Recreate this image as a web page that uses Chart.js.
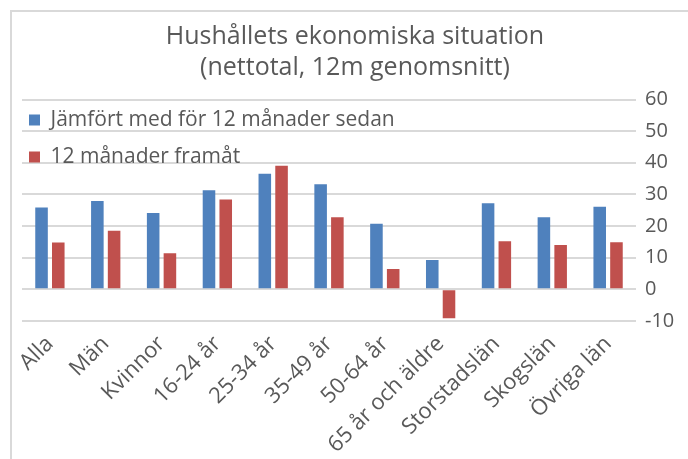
<!DOCTYPE html>
<html>
<head>
<meta charset="utf-8">
<script src="https://cdn.jsdelivr.net/npm/chart.js@4.4.0/dist/chart.umd.min.js"></script>
<style>
  body { margin: 0; background: #fff; }
  canvas { display: block; }
</style>
</head>
<body>
<canvas id="grafico" width="688" height="459"></canvas>
<script>
// Data
const kategorier = ["Alla", "Män", "Kvinnor", "16-24 år", "25-34 år", "35-49 år", "50-64 år", "65 år och äldre", "Storstadslän", "Skogslän", "Övriga län"];
const bakat = [25.9, 27.9, 24.1, 31.3, 36.5, 33.2, 20.7, 9.3, 27.2, 22.8, 26.1];
const framat = [14.8, 18.5, 11.4, 28.4, 39.1, 22.8, 6.4, -9.1, 15.2, 14.0, 14.9];
const titel = ["Hushållets ekonomiska situation", "(nettotal, 12m genomsnitt)"];
const yMin = -10;
const yMax = 60;

const textfarg = "#595959";
const rutnat = "#d9d9d9";
const typsnitt = "'Open Sans', sans-serif";

// ram runt diagrammet (övre och vänstra kanten syns)
const ram = {
  id: "ram",
  beforeDraw(chart) {
    const ctx = chart.ctx;
    ctx.save();
    ctx.strokeStyle = rutnat;
    ctx.lineWidth = 2;
    ctx.beginPath();
    ctx.moveTo(11, chart.height);
    ctx.lineTo(11, 11);
    ctx.lineTo(chart.width, 11);
    ctx.stroke();
    ctx.restore();
  },
  // legenden ligger inne i ritytan, lite ovanför översta linjen
  afterLayout(chart) {
    const legend = chart.legend;
    if (legend) {
      const h = legend.bottom - legend.top;
      const w = legend.right - legend.left;
      legend.top = chart.chartArea.top - 6;
      legend.bottom = legend.top + h;
      legend.left = chart.chartArea.left - 9;
      legend.right = legend.left + w;
    }
  }
};

const ctx = document.getElementById("grafico").getContext("2d");
new Chart(ctx, {
  type: "bar",
  data: {
    labels: kategorier,
    datasets: [
      {
        label: "Jämfört med för 12 månader sedan",
        data: bakat,
        backgroundColor: "#4f81bd",
        categoryPercentage: 0.6,
        barPercentage: 0.75,
      },
      {
        label: "12 månader framåt",
        data: framat,
        backgroundColor: "#c0504d",
        categoryPercentage: 0.6,
        barPercentage: 0.75,
      },
    ],
  },
  options: {
    responsive: false,
    animation: false,
    layout: { padding: { left: 22, right: 0, top: 0, bottom: 0 } },
    plugins: {
      title: {
        display: true,
        text: titel,
        color: textfarg,
        font: { family: typsnitt, size: 25, weight: "normal", lineHeight: 1.25 },
        padding: { top: 21, bottom: 16 },
      },
      legend: {
        position: "chartArea",
        align: "start",
        labels: {
          color: textfarg,
          font: { family: typsnitt, size: 21 },
          boxWidth: 11,
          boxHeight: 11,
          padding: 16,
        },
      },
      tooltip: { enabled: false },
    },
    scales: {
      x: {
        grid: { display: false, drawTicks: false },
        border: { display: false },
        ticks: {
          color: textfarg,
          font: { family: typsnitt, size: 22 },
          minRotation: 45,
          maxRotation: 45,
          autoSkip: false,
          padding: 10,
        },
        afterFit(scale) {
          scale.height = 138;
        },
      },
      y: {
        position: "right",
        min: yMin,
        max: yMax,
        grid: { color: rutnat, lineWidth: 2, drawTicks: false },
        border: { display: false },
        ticks: {
          stepSize: 10,
          color: textfarg,
          font: { family: typsnitt, size: 20 },
          padding: 9,
        },
        afterFit(scale) {
          scale.width = 52;
        },
      },
    },
  },
  plugins: [ram],
});
</script>
</body>
</html>
